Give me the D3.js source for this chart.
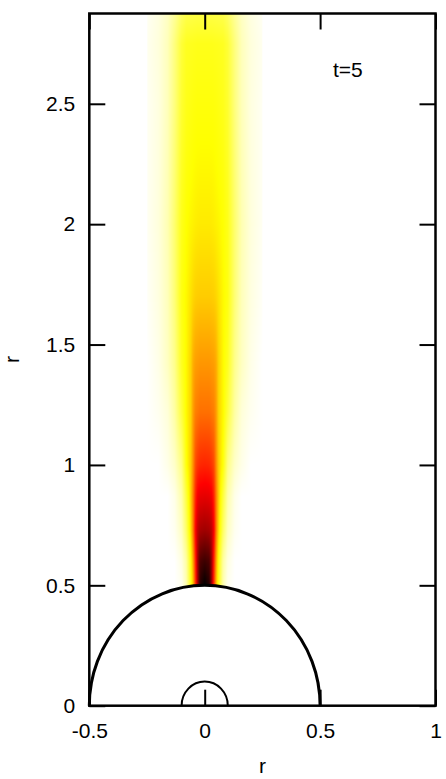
<!DOCTYPE html>
<html>
<head>
<meta charset="utf-8">
<script src="https://cdn.jsdelivr.net/npm/d3@7"></script>
<style>
  html, body { margin: 0; padding: 0; background: #fff; }
  text { font-family: "Liberation Sans", Arial, sans-serif; }
</style>
</head>
<body>
<div id="vis"></div>
<script>
// declare constants
const FRAME_WIDTH = 446
const FRAME_HEIGHT = 779
const PLOT = {left: 89.3, right: 435.5, top: 13.5, bottom: 705.7}

// tick values
const X_TICKS = [-0.5, 0, 0.5, 1]
const Y_TICKS = [0, 0.5, 1, 1.5, 2, 2.5]

// radii of the two half circles (outer sphere, inner core)
const SPHERE_RADII = [0.5, 0.1]

// field: rows in r, columns at distance |x| from the axis
const R_ROWS = [0.5, 0.6, 0.73, 0.87, 1.0, 1.22, 1.42, 1.7, 2.0, 2.5, 2.75, 2.86]
const X_OFF  = [0, 0.02, 0.03, 0.04, 0.05, 0.06, 0.08, 0.10, 0.13, 0.16, 0.20, 0.25]
const FIELD = [
  [1.00, 0.95, 0.80, 0.60, 0.42, 0.30, 0.10, 0.02, 0.00, 0.00, 0.00, 0.00],
  [0.92, 0.90, 0.80, 0.62, 0.45, 0.32, 0.12, 0.04, 0.00, 0.00, 0.00, 0.00],
  [0.79, 0.78, 0.75, 0.67, 0.50, 0.38, 0.20, 0.08, 0.02, 0.00, 0.00, 0.00],
  [0.70, 0.695, 0.68, 0.62, 0.50, 0.40, 0.25, 0.11, 0.03, 0.00, 0.00, 0.00],
  [0.62, 0.615, 0.60, 0.57, 0.48, 0.40, 0.32, 0.16, 0.07, 0.03, 0.00, 0.00],
  [0.52, 0.52, 0.51, 0.50, 0.46, 0.39, 0.34, 0.25, 0.12, 0.05, 0.02, 0.00],
  [0.47, 0.47, 0.465, 0.46, 0.44, 0.39, 0.34, 0.29, 0.15, 0.08, 0.03, 0.00],
  [0.40, 0.40, 0.398, 0.395, 0.385, 0.37, 0.34, 0.31, 0.18, 0.09, 0.04, 0.01],
  [0.36, 0.36, 0.358, 0.355, 0.35, 0.345, 0.33, 0.30, 0.19, 0.10, 0.045, 0.015],
  [0.32, 0.32, 0.32, 0.318, 0.315, 0.31, 0.30, 0.27, 0.17, 0.09, 0.04, 0.015],
  [0.30, 0.30, 0.30, 0.298, 0.296, 0.294, 0.29, 0.26, 0.17, 0.09, 0.045, 0.02],
  [0.25, 0.25, 0.25, 0.248, 0.246, 0.244, 0.24, 0.21, 0.14, 0.08, 0.04, 0.015]
]

const FRAME1 = d3.select('#vis')
                  .append('svg')
                  .attr('width', FRAME_WIDTH)
                  .attr('height', FRAME_HEIGHT)

const x = d3.scaleLinear()
            .domain([-0.5, 1])
            .range([PLOT.left, PLOT.right])

const y = d3.scaleLinear()
            .domain([0, 2.875])
            .range([PLOT.bottom, PLOT.top])

// white -> yellow -> red -> black
const color = d3.scaleLinear()
                .domain([0, 1/3, 2/3, 1])
                .range(["#ffffff", "#ffff00", "#ff0000", "#000000"])
                .clamp(true)

// one scale per column, running along r
const colScales = X_OFF.map((_, k) => d3.scaleLinear()
                                        .domain(R_ROWS)
                                        .range(FIELD.map(row => row[k]))
                                        .clamp(true))

// paint the field into an image
const W = Math.round(PLOT.right - PLOT.left)
const H = Math.round(PLOT.bottom - PLOT.top)
const canvas = document.createElement('canvas')
canvas.width = W
canvas.height = H
const ctx = canvas.getContext('2d')
const img = ctx.createImageData(W, H)
for (let j = 0; j < H; j++) {
  const rv = y.invert(PLOT.top + j + 0.5)
  const across = d3.scaleLinear()
                   .domain(X_OFF)
                   .range(colScales.map(s => s(rv)))
                   .clamp(true)
  for (let i = 0; i < W; i++) {
    const xv = x.invert(PLOT.left + i + 0.5)
    let v = across(Math.abs(xv))
    if (Math.abs(xv) > X_OFF[X_OFF.length - 1]) v = 0
    if (xv * xv + rv * rv < 0.25) v = 0
    const c = d3.rgb(color(v))
    const p = (j * W + i) * 4
    img.data[p] = c.r
    img.data[p + 1] = c.g
    img.data[p + 2] = c.b
    img.data[p + 3] = 255
  }
}
ctx.putImageData(img, 0, 0)

FRAME1.append('image')
      .attr('x', PLOT.left)
      .attr('y', PLOT.top)
      .attr('width', W)
      .attr('height', H)
      .attr('preserveAspectRatio', 'none')
      .attr('href', canvas.toDataURL())

// half circles
FRAME1.selectAll('.sphere')
      .data(SPHERE_RADII)
      .enter()
      .append('path')
        .attr('class', 'sphere')
        .attr('d', d => 'M' + x(-d) + ',' + y(0) +
                        ' A' + (x(d) - x(0)) + ',' + (y(0) - y(d)) + ' 0 0 1 ' + x(d) + ',' + y(0))
        .attr('fill', 'none')
        .attr('stroke', '#000')
        .attr('stroke-width', d => d > 0.2 ? 3 : 2)

// axes, ticks pointing inward
const TICK = 16
const fmt = d => String(d)

FRAME1.append('g')
      .attr('transform', 'translate(0,' + PLOT.bottom + ')')
      .call(d3.axisBottom(x).tickValues(X_TICKS).tickSize(-TICK).tickPadding(17).tickFormat(fmt))
      .attr('font-size', '21px')

FRAME1.append('g')
      .attr('transform', 'translate(0,' + PLOT.top + ')')
      .call(d3.axisTop(x).tickValues(X_TICKS).tickSize(-TICK).tickFormat(''))

FRAME1.append('g')
      .attr('transform', 'translate(' + PLOT.left + ',0)')
      .call(d3.axisLeft(y).tickValues(Y_TICKS).tickSize(-TICK).tickPadding(14).tickFormat(fmt))
      .attr('font-size', '21px')

FRAME1.append('g')
      .attr('transform', 'translate(' + PLOT.right + ',0)')
      .call(d3.axisRight(y).tickValues(Y_TICKS).tickSize(-TICK).tickFormat(''))

FRAME1.selectAll('.tick line').attr('stroke', '#000').attr('stroke-width', 2)
FRAME1.selectAll('.domain').remove()
FRAME1.selectAll('.tick text')
      .attr('fill', '#000')
      .attr('font-family', '"Liberation Sans", Arial, sans-serif')

// frame
FRAME1.append('rect')
      .attr('x', PLOT.left)
      .attr('y', PLOT.top)
      .attr('width', PLOT.right - PLOT.left)
      .attr('height', PLOT.bottom - PLOT.top)
      .attr('fill', 'none')
      .attr('stroke', '#000')
      .attr('stroke-width', 2.5)

// labels
FRAME1.append('text')
      .attr('x', (PLOT.left + PLOT.right) / 2)
      .attr('y', 773)
      .attr('text-anchor', 'middle')
      .attr('font-size', '21px')
      .text('r')

FRAME1.append('text')
      .attr('transform', 'translate(19,' + ((PLOT.top + PLOT.bottom) / 2) + ') rotate(-90)')
      .attr('text-anchor', 'middle')
      .attr('font-size', '21px')
      .text('r')

FRAME1.append('text')
      .attr('x', 333)
      .attr('y', 76.5)
      .attr('font-size', '21px')
      .text('t=5')
</script>
</body>
</html>
